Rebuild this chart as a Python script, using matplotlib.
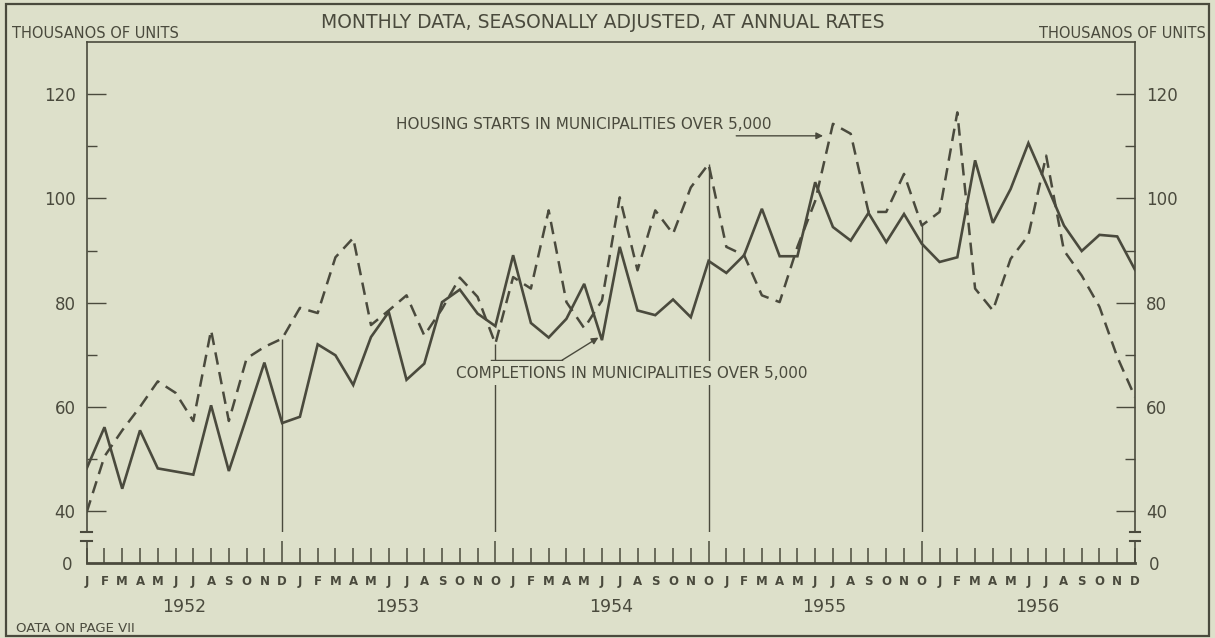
import matplotlib
matplotlib.use("Agg")
import matplotlib.pyplot as plt
from matplotlib.patches import Rectangle
from matplotlib.lines import Line2D

# Datos (miles de unidades, tasa anual)
years = ["1952", "1953", "1954", "1955", "1956"]
month_letters = ["J", "F", "M", "A", "M", "J", "J", "A", "S", "O", "N", "D",
                 "J", "F", "M", "A", "M", "J", "J", "A", "S", "O", "N", "O",
                 "J", "F", "M", "A", "M", "J", "J", "A", "S", "O", "N", "O",
                 "J", "F", "M", "A", "M", "J", "J", "A", "S", "O", "N", "O",
                 "J", "F", "M", "A", "M", "J", "J", "A", "S", "O", "N", "D"]

starts = [39.8, 50.5, 55.5, 60.0, 64.9, 62.7, 57.3, 74.7, 57.3, 69.3, 71.5, 73.1,
          79.0, 78.0, 88.7, 92.4, 75.7, 78.5, 81.4, 73.7, 78.8, 84.8, 81.1, 72.1,
          84.9, 82.7, 97.7, 80.1, 75.1, 80.4, 100.2, 86.2, 97.7, 93.2, 102.1, 106.6,
          90.7, 89.1, 81.4, 80.1, 90.7, 99.5, 114.3, 112.4, 97.4, 97.4, 104.7, 94.8,
          97.4, 116.5, 82.7, 78.5, 88.4, 92.9, 108.2, 90.0, 85.2, 79.2, 69.6, 61.9]

completions = [48.2, 56.1, 44.3, 55.5, 48.2, 47.6, 47.0, 60.3, 47.7, 58.0, 68.5, 56.9,
               58.1, 72.0, 69.9, 64.2, 73.4, 78.2, 65.2, 68.3, 80.1, 82.5, 77.9, 75.5,
               89.1, 76.1, 73.3, 76.9, 83.6, 72.8, 90.7, 78.5, 77.6, 80.6, 77.2, 88.0,
               85.7, 89.1, 98.0, 88.9, 88.9, 103.1, 94.5, 91.9, 97.2, 91.6, 97.0, 91.3,
               87.8, 88.7, 107.3, 95.3, 101.8, 110.6, 102.8, 94.8, 89.9, 93.0, 92.7, 86.3]

# Colores
bg = "#dde0ca"
ink = "#4a4a3d"

W, H = 1215, 638
fig = plt.figure(figsize=(W / 100, H / 100), dpi=100, facecolor=bg)

x = list(range(len(starts)))
ymin, ymax = 36, 130

# Ejes principales
left = 86.7 / W
width = (1135 - 86.7) / W
ax = fig.add_axes([left, (H - 532) / H, width, (532 - 42) / H])
ax.set_facecolor(bg)
ax.set_xlim(0, 59)
ax.set_ylim(ymin, ymax)

ax.plot(x, completions, color=ink, lw=1.9, solid_joinstyle="miter")
ax.plot(x, starts, color=ink, lw=1.8, linestyle=(0, (5, 3)))

# lineas verticales de fin de año
dec_idx = [11, 23, 35, 47]
ax.vlines(dec_idx, ymin, [starts[i] for i in dec_idx], color=ink, lw=1.0)

for s in ["left", "right", "top"]:
    ax.spines[s].set_color(ink)
    ax.spines[s].set_linewidth(1.2)
ax.spines["bottom"].set_visible(False)
ax.set_xticks([])
ax.set_yticks([40, 60, 80, 100, 120])
ax.set_yticks([50, 70, 90, 110], minor=True)
ax.tick_params(axis="y", which="both", direction="in", left=True, right=True,
               labelleft=True, labelright=True, color=ink, width=1.0)
ax.tick_params(axis="y", which="major", length=14, labelsize=12, labelcolor=ink, pad=8)
ax.tick_params(axis="y", which="minor", length=7)

# marcas de corte
for xx in (0, 1):
    ax.add_line(Line2D([xx - 0.005, xx + 0.005], [0, 0], transform=ax.transAxes,
                       color=ink, lw=1.5, clip_on=False))

# Anotaciones
ax.text(28.0, 114.2, "HOUSING STARTS IN MUNICIPALITIES OVER 5,000", ha="center",
        va="center", fontsize=11, color=ink)
ax.annotate("", xy=(41.6, 112.0), xytext=(36.4, 112.0),
            arrowprops=dict(arrowstyle="-|>", color=ink, lw=1.0, mutation_scale=10))

ax.text(30.7, 66.5, "COMPLETIONS IN MUNICIPALITIES OVER 5,000", ha="center",
        va="center", fontsize=11, color=ink,
        bbox=dict(facecolor=bg, edgecolor="none", pad=3))
ax.plot([22.75, 26.75], [68.95, 68.95], color=ink, lw=1.0)
ax.annotate("", xy=(28.8, 73.3), xytext=(26.75, 68.95),
            arrowprops=dict(arrowstyle="-|>", color=ink, lw=1.0, mutation_scale=10,
                            shrinkA=0, shrinkB=0))

# Eje inferior (meses)
ax2 = fig.add_axes([left, (H - 563) / H, width, (563 - 541) / H])
ax2.set_facecolor(bg)
ax2.set_xlim(0, 59)
ax2.set_ylim(0, 1)
ax2.spines["top"].set_visible(False)
for s in ["left", "right"]:
    ax2.spines[s].set_color(ink)
    ax2.spines[s].set_linewidth(1.2)
ax2.spines["bottom"].set_color(ink)
ax2.spines["bottom"].set_linewidth(2.0)
ax2.set_yticks([0])
ax2.set_yticklabels(["0"])
ax2.tick_params(axis="y", which="both", length=0, labelleft=True, labelright=True,
                labelsize=12, labelcolor=ink, pad=10)
ax2.set_xticks(dec_idx)
ax2.set_xticks([i for i in x if i not in dec_idx], minor=True)
ax2.tick_params(axis="x", which="both", direction="in", color=ink, width=1.1,
                labelbottom=False)
ax2.tick_params(axis="x", which="major", length=16)
ax2.tick_params(axis="x", which="minor", length=11)
for xx in (0, 1):
    ax2.add_line(Line2D([xx - 0.005, xx + 0.005], [1, 1], transform=ax2.transAxes,
                        color=ink, lw=1.5, clip_on=False))

for i, m in enumerate(month_letters):
    ax2.text(i, -0.85, m, ha="center", va="center", fontsize=8.5, color=ink,
             fontweight="bold")
for k, yr in enumerate(years):
    ax2.text(12 * k + 5.5, -2.0, yr, ha="center", va="center", fontsize=12.5,
             color=ink)

# Textos de cabecera y pie
fig.text(603 / W, 1 - 23 / H, "MONTHLY DATA, SEASONALLY ADJUSTED, AT ANNUAL RATES",
         ha="center", va="center", fontsize=13.5, color=ink)
fig.text(12 / W, 1 - 33 / H, "THOUSANOS OF UNITS", ha="left", va="center",
         fontsize=10.5, color=ink)
fig.text(1206 / W, 1 - 33 / H, "THOUSANOS OF UNITS", ha="right", va="center",
         fontsize=10.5, color=ink)
fig.text(16 / W, 1 - 629 / H, "OATA ON PAGE VII", ha="left", va="center",
         fontsize=9.5, color=ink)

# marco exterior
fig.patches.append(Rectangle((6 / W, 2 / H), (1209 - 6) / W, (634 - 2) / H,
                             transform=fig.transFigure, fill=False,
                             edgecolor=ink, lw=1.6))

fig.savefig("out.png", dpi=100, facecolor=bg)
